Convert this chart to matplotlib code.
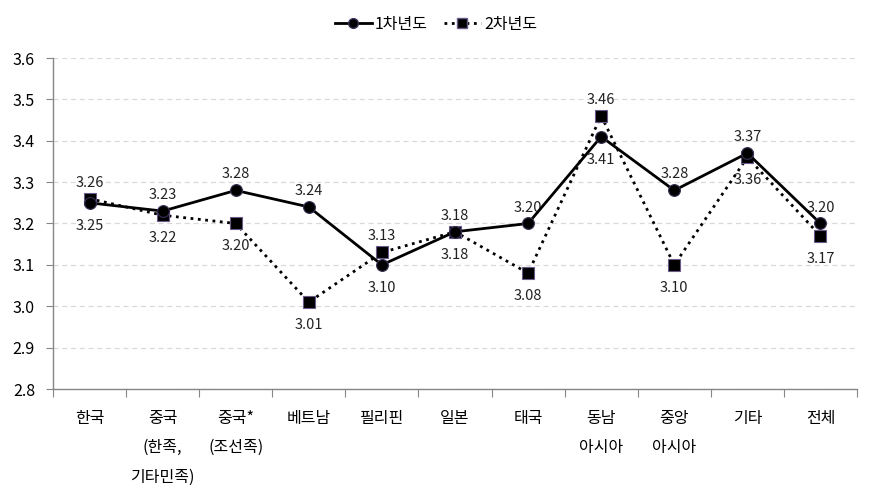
import matplotlib
matplotlib.use("Agg")
import matplotlib.pyplot as plt
from matplotlib.lines import Line2D

plt.rcParams['font.family'] = ['Noto Sans CJK KR', 'DejaVu Sans']

categories = ['한국', '중국\n(한족,\n기타민족)', '중국*\n(조선족)', '베트남', '필리핀', '일본',
              '태국', '동남\n아시아', '중앙\n아시아', '기타', '전체']
year1 = [3.25, 3.23, 3.28, 3.24, 3.10, 3.18, 3.20, 3.41, 3.28, 3.37, 3.20]
year2 = [3.26, 3.22, 3.20, 3.01, 3.13, 3.18, 3.08, 3.46, 3.10, 3.36, 3.17]
# label position: 1 above, -1 below
pos1 = [-1, 1, 1, 1, -1, -1, 1, -1, 1, 1, 1]
pos2 = [1, -1, -1, -1, 1, 1, -1, 1, -1, -1, -1]
yticks = [2.8, 2.9, 3.0, 3.1, 3.2, 3.3, 3.4, 3.5, 3.6]

fig = plt.figure(figsize=(8.72, 4.94), dpi=100)
ax = fig.add_axes([53/872, 1-389/494, (857-53)/872, (389-58)/494])

x = list(range(len(categories)))
ax.plot(x, year1, '-', color='black', lw=2.0, marker='o', ms=8.5,
        mfc='black', mec='#3a2f55', mew=0.8, zorder=4, label='1차년도')
ax.plot(x, year2, ':', color='black', lw=2.0, marker='s', ms=8,
        mfc='black', mec='#6a5a8a', mew=0.8, zorder=3, label='2차년도')

def off(p):
    return 11.5 if p > 0 else -16.5

for xi, v, p in zip(x, year1, pos1):
    ax.annotate(f'{v:.2f}', (xi, v), xytext=(0, off(p)), textcoords='offset points',
                ha='center', va='center', fontsize=10.5, color='#222222')
for xi, v, p in zip(x, year2, pos2):
    ax.annotate(f'{v:.2f}', (xi, v), xytext=(0, off(p)), textcoords='offset points',
                ha='center', va='center', fontsize=10.5, color='#222222')

ax.set_xlim(-0.5, len(categories)-0.5)
ax.set_ylim(2.8, 3.6)
ax.set_yticks(yticks)
ax.set_yticklabels([f'{t:.1f}' for t in yticks], fontsize=11.5)
ax.tick_params(axis='y', length=5, color='#868686', pad=8)

ax.set_xticks([i - 0.5 for i in range(len(categories)+1)], minor=False)
ax.set_xticklabels([])
ax.tick_params(axis='x', which='major', length=6, color='#868686', direction='out')
ax.set_xticks(x, minor=True)
ax.set_xticklabels(categories, minor=True, fontsize=11.5, linespacing=1.95, va='top')
ax.tick_params(axis='x', which='minor', length=0, pad=15)

ax.grid(axis='y', color='#d9d9d9', ls=(0, (4, 3)), lw=0.9)
ax.set_axisbelow(True)
for s in ['top', 'right']:
    ax.spines[s].set_visible(False)
for s in ['left', 'bottom']:
    ax.spines[s].set_color('#868686')
    ax.spines[s].set_linewidth(1.0)

handles = [Line2D([], [], color='black', lw=2.0, ls='-', marker='o', ms=7, mec='#3a2f55'),
           Line2D([], [], color='black', lw=2.0, ls=':', marker='s', ms=7, mec='#6a5a8a')]
fig.legend(handles, ['1차년도', '2차년도'], loc='center', bbox_to_anchor=(0.5, 1-24/494),
           ncol=2, frameon=False, fontsize=11.5, handlelength=2.3, columnspacing=1.0,
           handletextpad=0.2)

fig.savefig('out.png', dpi=100)
